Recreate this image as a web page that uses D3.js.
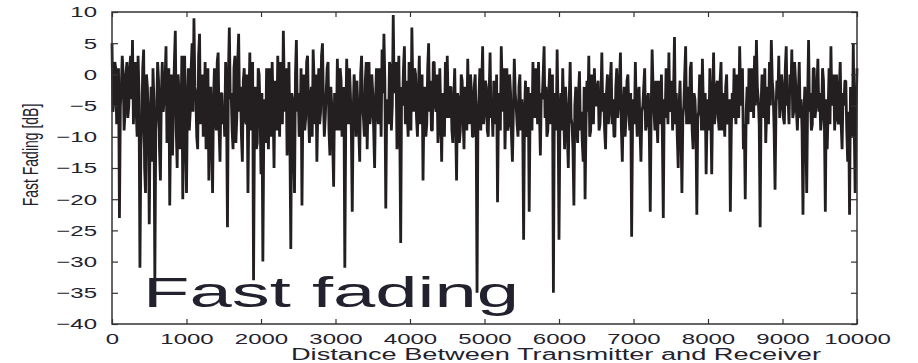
<!DOCTYPE html>
<html>
<head>
<meta charset="utf-8">
<script src="https://cdn.jsdelivr.net/npm/d3@7"></script>
<style>
  body { margin: 0; background: #fff; }
  svg { display: block; }
  text { font-family: 'Liberation Sans', Arial, sans-serif; fill: #22222e; }
</style>
</head>
<body>
<div id="chart"></div>
<script>
// fast fading samples, one every 25 m from 0 to 10000
const sampleStep = 25;
const fadingDb = [
  5, -4, 1, -3, -23, -2, 0, -6, 2, -5, 3, 5.5, -1, -6, 3, -31, -8, 4, -19, -2,
  -24, -2, 1, -33, -6, -1, -17, 2, -4, 4.5, -10, -21, 0, -5, 7, -15, -3, -8, -20, 3,
  -19, 1, -6, 5, 9, -3, -12, 6.5, -5, -10, 2, -8, -17, -2, -19, 1, -9, 3.5, -14, -3,
  -5, 2, -24.5, 7.5, -3, -12, 3, -7, 6.5, -2, -14, 1, -8, -19, 3.5, -6, -33, -2, -11, 0,
  -16, -30, -4, 1, -12, -6, 2, -15, -3, 3, -10, -1, 7, -6, -13, 2, -28, -4, -19, 5.5,
  -3, -9, -21, 0, -7, 3, -11, -2, 4, -8, -14, 1, -6, 5, -10, -3, 2, -13, -5, -18,
  -4, 2.5, -9, -1, -6, -31, 2.5, -8, -3, -22, 0, -10, -5, -14, 3, -7, -1, -12, 2, -6,
  -3, -15, 1, -8, -2, 4, 6.5, -21.5, -4, 2, -9, 9.5, -2, -12, 3, -27, -5, 4.5, -1, -10,
  -3, 7.5, -6, 0, -10, 3, -4, -17, -2, -8, 5, -1, -9, 2, -6, -11, 1, -14, -4, 2,
  3, -7, -2, -11, 1, -17, -4, -9, -1, -12, -5, 2.5, -8, -3, -10, 0, -35, -4, -9, 4.5,
  -6, -2, -10, 3.5, -5, -1, -8, -20.5, -3, 4.5, -6, -12, 1, -8, -3, -14, 2.5, -5, -10, 0,
  -4, -26.5, -1, -9, -22, -3, 2, -7, -2, 2, -13, -4, 4.5, -2, -9, 1, -6, -35, -3, 4,
  -26.5, -3, 1, -12, -5, -15, 2, -8, -21, -2, -11, 0.5, -6, -14, -20, -1, 3, -9, -4, 1,
  -5, -1, -8, 3.5, -3, -12, 0, -6, 2, -4, -10, 1, -5, 3.5, -14, -2, -7, 0, -9, -26,
  -4, 2, -10, -2, -14, -5, 1, -8, -3, -22, 4, -6, -1, -11, -4, 0, -23, -7, -2, 3.5,
  -4, -9, 6, -3, -15, -1, -19, -5, 4.5, -2, -8, 2, -12, -4, -22.5, -6, -1, 2.5, -9, -16,
  -4, 1, -16, 3.5, -6, -1, -9, 2, -3, -10, 0, -7, -22, -3, 1, -8, -2, 4.5, -5, -12,
  -20, -2, 1, -6, -1, 3, 5.5, -4, -24.5, 0, -7, -11, -2, 2, 5.5, -3, -18.5, -1, 3, -5,
  -2, -8, 4.5, -4, 0, 4, -6, -1, -9, 2, -4, -22.5, -2, -19, 5.5, -3, -8, 1, -5, 2.5,
  -3, -7, -1, -22, -12, 1, 4.5, -3, -9, 0, -8, 2, -12, -5, -1, -14, -22.5, -4, 5, -19,
  1
];
// in-between samples, at 12.5 m past each of the above
const fadingDbMid = [
  -6, 2, -8, 1, -5, 3, -9, 0, -7, 1, -4, -8, 2, -10, -3, -12, 1, -15, 0, -7,
  -8, -14, -4, -9, 2, -12, -3, -6, -1, -11, 1, -7, -13, 2, -9, 0, -12, 3, -6, -10,
  -4, -9, 1, -6, -2, -10, 3, -8, 0, -5, -12, 1, -6, -11, -4, -7, 2, -9, -3, -8,
  -10, -6, 0, -4, -9, 1, -11, 2, -6, -10, -1, -7, 0, -5, -9, 2, -8, -12, 1, -6,
  -3, -9, -11, -8, 1, -10, -5, -1, -9, -4, 2, -8, -2, 1, -7, -10, -3, -12, 0, -6,
  -10, 1, -5, -9, 2, -6, -4, -10, -1, 0, -6, -8, 3, -4, -7, 1, -9, -2, -11, -3,
  -9, -5, 1, -10, -2, -8, -4, 1, -9, -6, -3, -1, -9, 0, -5, -10, 2, -4, -8, 0,
  -9, -4, -6, 1, -10, -3, -1, -5, -8, 1, -5, -3, 2, -6, -9, -2, 1, -8, -6, 2,
  -9, -2, 1, -7, -3, -8, 0, -5, -10, 1, -6, -9, 2, -5, 0, -8, -6, -3, -10, -7,
  -5, -2, -9, -4, -8, -3, -11, 0, -7, -2, -9, -6, 0, -10, -2, -7, -6, 1, -2, -8,
  -1, -9, -3, -7, -10, -4, 0, -6, -9, -2, 1, -5, -9, 0, -10, -6, -3, -8, -2, -9,
  -7, -6, -10, -2, -5, -9, -4, 1, -8, -6, -3, 0, -7, -10, -3, -8, 0, -5, -9, -6,
  -8, -9, -6, -2, -10, -4, -7, -12, -5, -8, -3, -9, -11, -2, -8, -6, -10, 0, -8, -5,
  -2, -9, -4, -6, -9, -3, -8, -1, -8, -10, -2, -7, -1, -9, -5, -10, -1, -6, -3, -8,
  -8, -6, -3, -9, -6, -2, -9, -4, -10, -6, -2, -9, -7, -1, -8, -10, -4, 1, -8, -6,
  -1, -3, -8, -10, -5, -9, -7, 0, -8, -4, 1, -9, -3, -8, -7, 0, -9, -5, -3, -7,
  -9, -6, -4, -8, -2, -7, -1, -9, -6, -2, -8, -4, -9, -7, -5, 0, -7, -3, 1, -8,
  -6, -8, -4, 1, -7, -5, -2, -8, -5, -4, 1, -6, -8, -5, -1, -9, -6, -4, -7, 0,
  -7, 1, -5, -8, -3, -7, 2, -6, -3, -7, -9, -6, -8, -4, -6, -9, 1, -7, -2, -6,
  -9, 1, -8, -4, -6, -8, -5, 0, -4, -7, -2, -8, -3, -1, -9, -6, -2, -10, -8, -6
];
const xTicks = [0, 1000, 2000, 3000, 4000, 5000, 6000, 7000, 8000, 9000, 10000];
const yTicks = [10, 5, 0, -5, -10, -15, -20, -25, -30, -35, -40];
const xTitle = 'Distance Between Transmitter and Receiver';
const yTitle = 'Fast Fading [dB]';
const overlayText = 'Fast fading';

const width = 918, height = 363;
const plot = { left: 112, right: 857, top: 12, bottom: 324 };
// the source picture is stretched sideways, so text and strokes are widened too
const stretch = 1.6;

const x = d3.scaleLinear().domain([0, 10000]).range([plot.left, plot.right]);
const y = d3.scaleLinear().domain([-40, 10]).range([plot.bottom, plot.top]);
// same x scale, before the sideways stretch is applied
const xs = d3.scaleLinear().domain([0, 10000]).range([plot.left / stretch, plot.right / stretch]);

const svg = d3.select('#chart').append('svg')
  .attr('width', width)
  .attr('height', height);

// interleave the two sample sets into one trace
const points = [];
fadingDb.forEach((v, i) => {
  points.push({ d: i * sampleStep, v: v });
  if (i < fadingDbMid.length) {
    points.push({ d: i * sampleStep + sampleStep / 2, v: fadingDbMid[i] });
  }
});

const line = d3.line()
  .x(p => xs(p.d))
  .y(p => y(p.v));

svg.append('g')
  .attr('transform', 'scale(' + stretch + ',1)')
  .append('path')
  .datum(points)
  .attr('d', line)
  .attr('fill', 'none')
  .attr('stroke', '#231f20')
  .attr('stroke-width', 1.75)
  .attr('stroke-linejoin', 'bevel');

// box
svg.append('rect')
  .attr('x', plot.left)
  .attr('y', plot.top)
  .attr('width', plot.right - plot.left)
  .attr('height', plot.bottom - plot.top)
  .attr('fill', 'none')
  .attr('stroke', '#333')
  .attr('stroke-width', 1.5);

const fmt = d => d < 0 ? '\u2212' + Math.abs(d) : String(d);

const gx = svg.append('g')
  .attr('transform', 'translate(0,' + plot.bottom + ')')
  .call(d3.axisBottom(x).tickValues(xTicks).tickFormat(fmt).tickSizeInner(-5).tickSizeOuter(0).tickPadding(9));
const gxTop = svg.append('g')
  .attr('transform', 'translate(0,' + plot.top + ')')
  .call(d3.axisTop(x).tickValues(xTicks).tickFormat('').tickSizeInner(-5).tickSizeOuter(0));
const gy = svg.append('g')
  .attr('transform', 'translate(' + plot.left + ',0)')
  .call(d3.axisLeft(y).tickValues(yTicks).tickFormat(fmt).tickSizeInner(-6).tickSizeOuter(0).tickPadding(15));
const gyRight = svg.append('g')
  .attr('transform', 'translate(' + plot.right + ',0)')
  .call(d3.axisRight(y).tickValues(yTicks).tickFormat('').tickSizeInner(-6).tickSizeOuter(0));

[gx, gxTop, gy, gyRight].forEach(g => {
  g.select('.domain').remove();
  g.selectAll('.tick line').attr('stroke', '#333').attr('stroke-width', 1.2);
});

gx.selectAll('.tick text').attr('font-size', 15).attr('fill', '#22222e');
gy.selectAll('.tick text').attr('font-size', 15).attr('fill', '#22222e');

// widen tick labels like the source
svg.selectAll('.tick text').each(function () {
  const len = this.getComputedTextLength();
  d3.select(this)
    .attr('textLength', len * stretch)
    .attr('lengthAdjust', 'spacingAndGlyphs');
});

// axis titles
svg.append('text')
  .attr('x', 556)
  .attr('y', 360)
  .attr('text-anchor', 'middle')
  .attr('font-size', 16)
  .attr('textLength', 530)
  .attr('lengthAdjust', 'spacingAndGlyphs')
  .text(xTitle);

svg.append('text')
  .attr('transform', 'translate(38,155) scale(' + stretch + ',1) rotate(-90)')
  .attr('text-anchor', 'middle')
  .attr('font-size', 14)
  .text(yTitle);

svg.append('text')
  .attr('x', 143)
  .attr('y', 307)
  .attr('font-size', 42)
  .attr('fill', '#1a1a26')
  .attr('textLength', 376)
  .attr('lengthAdjust', 'spacingAndGlyphs')
  .text(overlayText);
</script>
</body>
</html>
